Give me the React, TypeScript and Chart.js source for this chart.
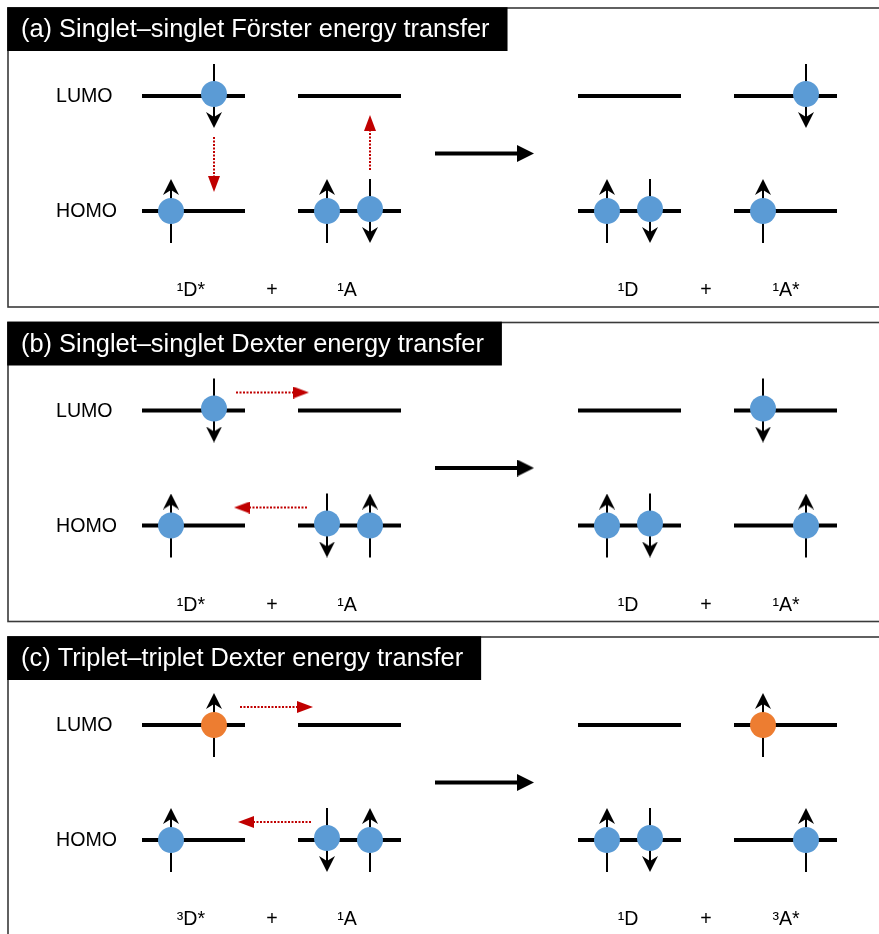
import { useEffect, useRef } from "react";
import { Chart, registerables } from "chart.js";

Chart.register(...registerables);

// ---------------- content ----------------
const panelTitles = [
  "(a) Singlet–singlet Förster energy transfer",
  "(b) Singlet–singlet Dexter energy transfer",
  "(c) Triplet–triplet Dexter energy transfer",
];
const orbitalLabels = ["LUMO", "HOMO"];
const stateLabelsA = ["¹D*", "+", "¹A", "¹D", "+", "¹A*"];
const stateLabelsB = ["¹D*", "+", "¹A", "¹D", "+", "¹A*"];
const stateLabelsC = ["³D*", "+", "¹A", "¹D", "+", "³A*"];
const stateLabels = [stateLabelsA, stateLabelsB, stateLabelsC];

// occupancy per molecule (D, A, D', A') per orbital [LUMO, HOMO]
// two slots (left, right): u = spin up, d = spin down, t = triplet spin up, . = empty
const occupancyA = [[".d", "u."], ["..", "ud"], ["..", "ud"], [".d", "u."]];
const occupancyB = [[".d", "u."], ["..", "du"], ["..", "ud"], ["d.", ".u"]];
const occupancyC = [[".t", "u."], ["..", "du"], ["..", "ud"], ["t.", ".u"]];
const occupancies = [occupancyA, occupancyB, occupancyC];

// vertical transfers: [molecule, slot, fromOrbital, toOrbital]
const verticalTransfers = [[[0, 1, 0, 1], [1, 1, 1, 0]], [], []];
// horizontal transfers: [orbital, fromMolecule, toMolecule]
const horizontalTransfers = [[], [[0, 0, 1], [1, 1, 0]], [[0, 0, 1], [1, 1, 0]]];

// ---------------- layout ----------------
const W = 879;
const H = 934;
const PANEL_TOP = [8, 322.5, 637];
const PANEL_H = 299;
const PANEL_LEFT = 8;
const LEVEL_DY = [88, 203];
const LABEL_DY = 282;
const MOL_X = [142, 298, 578, 734];
const LEVEL_LEN = 103;
const SLOT_DX = [29, 72];
const STATE_X = [191, 272, 347, 628, 706, 786];
const H_SHIFT = [0, 0, 4];
const BIG_ARROW_X = [435, 534];

const BLUE = "#5B9BD5";
const ORANGE = "#ED7D31";
const RED = "#C00000";
const FONT = '"Liberation Sans", Arial, Helvetica, sans-serif';

function makeHead(w: number, h: number, notch: number, color: string) {
  const c = document.createElement("canvas");
  c.width = w;
  c.height = h;
  const g = c.getContext("2d")!;
  g.fillStyle = color;
  g.beginPath();
  g.moveTo(w / 2, 0);
  g.lineTo(w, h);
  g.lineTo(w / 2, h - notch);
  g.lineTo(0, h);
  g.closePath();
  g.fill();
  return c;
}

type P = { x: number; y: number | null };

function buildData() {
  const levels: P[] = [];
  const spinShafts: P[] = [];
  const spinHeads: P[] = [];
  const spinRot: number[] = [];
  const circles: P[] = [];
  const circleColors: string[] = [];
  const redShafts: P[] = [];
  const redHeads: P[] = [];
  const redRot: number[] = [];
  const bigShaft: P[] = [];
  const bigHeads: P[] = [];

  const SPIN_HEAD_H = 16;
  const RED_HEAD_H = 16;
  const BIG_HEAD_H = 17;

  PANEL_TOP.forEach((top, p) => {
    const ly = LEVEL_DY.map((d) => top + d);
    occupancies[p].forEach((mol, m) => {
      mol.forEach((slots, o) => {
        const x0 = MOL_X[m];
        levels.push({ x: x0, y: ly[o] }, { x: x0 + LEVEL_LEN, y: ly[o] }, { x: x0, y: null });
        slots.split("").forEach((s, k) => {
          if (s === ".") return;
          const x = x0 + SLOT_DX[k];
          const down = s === "d";
          const dir = down ? 1 : -1;
          const tail = ly[o] - dir * 32;
          const tip = ly[o] + dir * 32;
          spinShafts.push({ x, y: tail }, { x, y: tip - dir * 8 }, { x, y: null });
          spinHeads.push({ x, y: tip - (dir * SPIN_HEAD_H) / 2 });
          spinRot.push(down ? 180 : 0);
          circles.push({ x, y: ly[o] + (down ? -2 : 0) });
          circleColors.push(s === "t" ? ORANGE : BLUE);
        });
      });
    });
    verticalTransfers[p].forEach(([m, k, from, to]) => {
      const x = MOL_X[m] + SLOT_DX[k];
      const dir = ly[to] > ly[from] ? 1 : -1;
      const start = ly[from] + dir * 41;
      const tip = ly[to] - dir * 19;
      redShafts.push({ x, y: start }, { x, y: tip - dir * (RED_HEAD_H - 2) }, { x, y: null });
      redHeads.push({ x, y: tip - (dir * RED_HEAD_H) / 2 });
      redRot.push(dir > 0 ? 180 : 0);
    });
    horizontalTransfers[p].forEach(([o, from, to]) => {
      const y = ly[o] - 18;
      const sh = H_SHIFT[p];
      let start: number, tip: number;
      if (to > from) {
        start = MOL_X[from] + SLOT_DX[1] + 22 + sh;
        tip = MOL_X[to] + 11 + sh;
      } else {
        start = MOL_X[from] + SLOT_DX[0] - 20 + sh;
        tip = MOL_X[to] + LEVEL_LEN - 11 + sh;
      }
      const dir = tip > start ? 1 : -1;
      redShafts.push({ x: start, y }, { x: tip - dir * (RED_HEAD_H - 2), y }, { x: start, y: null });
      redHeads.push({ x: tip - (dir * RED_HEAD_H) / 2, y });
      redRot.push(dir > 0 ? 90 : 270);
    });
    const my = (ly[0] + ly[1]) / 2;
    bigShaft.push({ x: BIG_ARROW_X[0], y: my }, { x: BIG_ARROW_X[1] - 14, y: my }, { x: BIG_ARROW_X[0], y: null });
    bigHeads.push({ x: BIG_ARROW_X[1] - BIG_HEAD_H / 2, y: my });
  });

  return {
    levels, spinShafts, spinHeads, spinRot, circles, circleColors,
    redShafts, redHeads, redRot, bigShaft, bigHeads,
  };
}

const textPlugin = {
  id: "diagramText",
  beforeDatasetsDraw(chart: any) {
    const ctx = chart.ctx as CanvasRenderingContext2D;
    const xs = chart.scales.x;
    const ys = chart.scales.y;
    ctx.save();
    PANEL_TOP.forEach((top, p) => {
      ctx.strokeStyle = "#3a3a3a";
      ctx.lineWidth = 1.6;
      ctx.strokeRect(xs.getPixelForValue(PANEL_LEFT), ys.getPixelForValue(top), 900, PANEL_H);
      ctx.font = `25.4px ${FONT}`;
      const tw = ctx.measureText(panelTitles[p]).width;
      const tx = xs.getPixelForValue(21);
      const bx = xs.getPixelForValue(PANEL_LEFT) - 0.8;
      const by = ys.getPixelForValue(top) - 0.8;
      ctx.fillStyle = "#000";
      ctx.fillRect(bx, by, tx + tw + 18 - bx, 43.8);
      ctx.fillStyle = "#fff";
      ctx.textAlign = "left";
      ctx.textBaseline = "middle";
      ctx.fillText(panelTitles[p], tx, by + 23);
      ctx.fillStyle = "#000";
      ctx.font = `19.6px ${FONT}`;
      orbitalLabels.forEach((lab, o) => {
        ctx.fillText(lab, xs.getPixelForValue(56), ys.getPixelForValue(top + LEVEL_DY[o]) + 1);
      });
      ctx.textAlign = "center";
      stateLabels[p].forEach((lab, i) => {
        ctx.fillText(lab, xs.getPixelForValue(STATE_X[i]), ys.getPixelForValue(top + LABEL_DY) + 1);
      });
    });
    ctx.restore();
  },
};

export default function App() {
  const ref = useRef<HTMLCanvasElement | null>(null);
  useEffect(() => {
    if (!ref.current) return;
    const d = buildData();
    const spinHead = makeHead(16, 16, 5, "#000");
    const redHead = makeHead(12, 16, 0, RED);
    const bigHead = makeHead(17, 17, 0, "#000");
    const lineBase = { showLine: true, pointRadius: 0, spanGaps: false, borderCapStyle: "butt" as const };
    const chart = new Chart(ref.current, {
      type: "scatter",
      data: {
        datasets: [
          { ...lineBase, label: "levels", data: d.levels, borderColor: "#000", borderWidth: 4, order: 5 },
          { ...lineBase, label: "spin shafts", data: d.spinShafts, borderColor: "#000", borderWidth: 2, order: 4 },
          {
            label: "spin heads", data: d.spinHeads, pointStyle: spinHead as any, pointRadius: 5,
            rotation: d.spinRot as any, order: 3,
          } as any,
          {
            label: "electrons", data: d.circles, pointRadius: 13, pointBorderWidth: 0,
            pointBackgroundColor: d.circleColors, order: 1,
          } as any,
          {
            ...lineBase, label: "transfer", data: d.redShafts, borderColor: RED, borderWidth: 2,
            borderDash: [2, 1.5], order: 2,
          } as any,
          {
            label: "transfer heads", data: d.redHeads, pointStyle: redHead as any, pointRadius: 5,
            rotation: d.redRot as any, order: 1,
          } as any,
          { ...lineBase, label: "reaction", data: d.bigShaft, borderColor: "#000", borderWidth: 4, order: 2 },
          {
            label: "reaction head", data: d.bigHeads, pointStyle: bigHead as any, pointRadius: 5,
            rotation: 90, order: 1,
          } as any,
        ],
      },
      options: {
        animation: false,
        responsive: false,
        devicePixelRatio: 1,
        events: [],
        layout: { padding: 0, autoPadding: false },
        plugins: { legend: { display: false }, tooltip: { enabled: false } },
        scales: {
          x: { type: "linear", min: 0, max: W, display: false },
          y: { type: "linear", min: 0, max: H, reverse: true, display: false },
        },
      },
      plugins: [textPlugin],
    });
    return () => chart.destroy();
  }, []);
  return (
    <div style={{ position: "absolute", left: 0, top: 0, width: W, height: H, background: "#fff" }}>
      <canvas ref={ref} width={W} height={H} style={{ display: "block" }} />
    </div>
  );
}
